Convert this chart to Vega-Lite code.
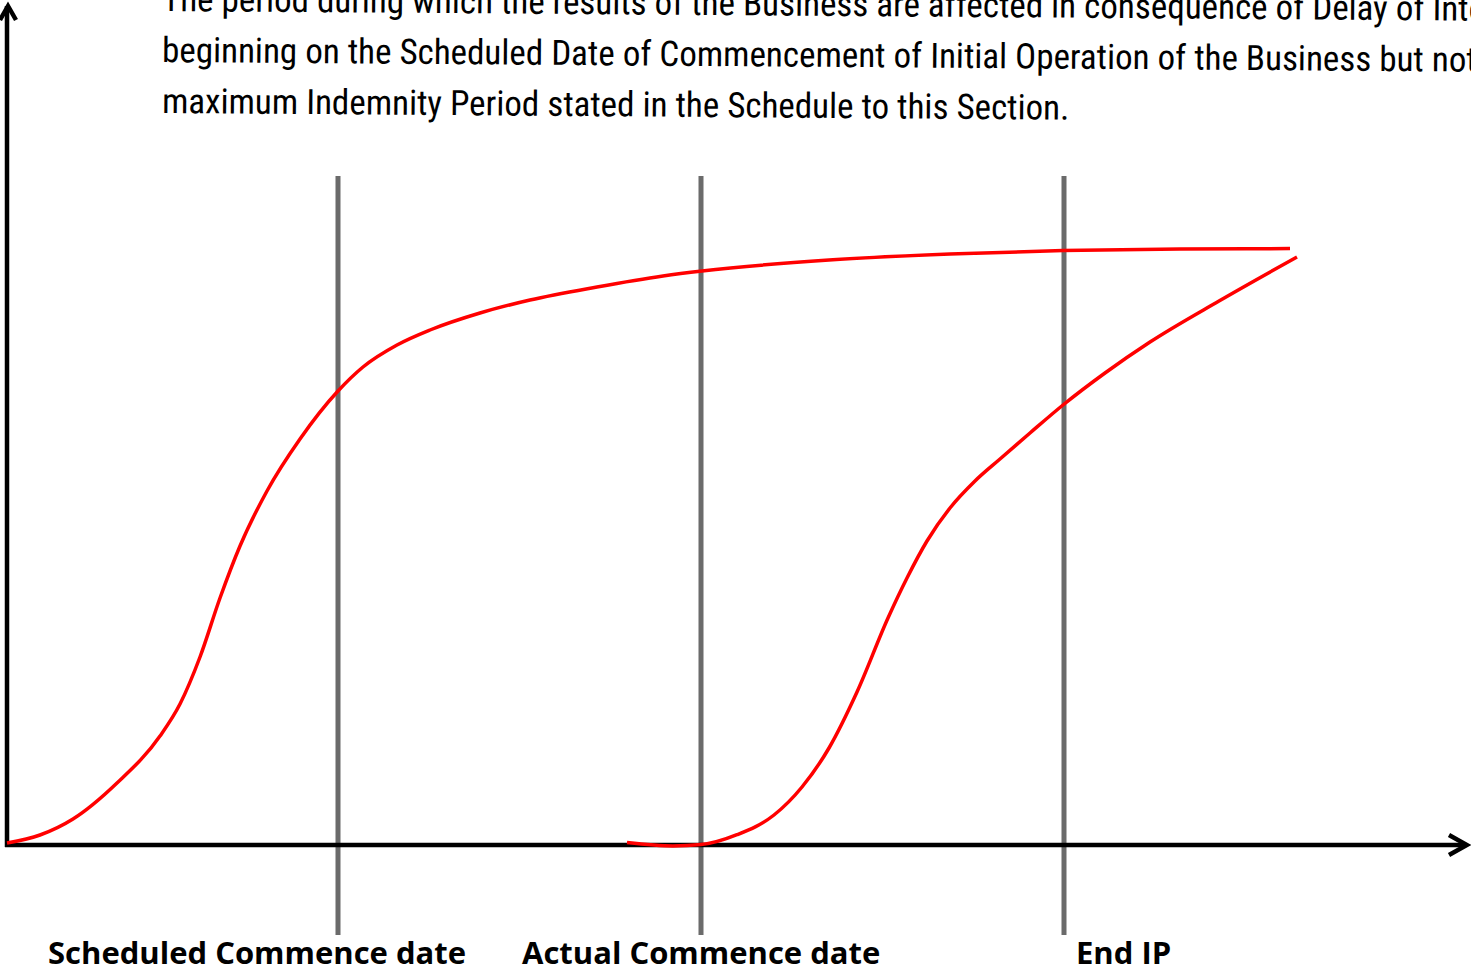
{
  "$schema": "https://vega.github.io/schema/vega-lite/v6.json",
  "width": 1471,
  "height": 972,
  "padding": 0,
  "autosize": {"type": "none"},
  "background": "white",
  "config": {"view": {"stroke": null}},
  "datasets": {
    "curves": [
      {"series": "planned", "x": 7, "y": 843},
      {"series": "planned", "x": 40, "y": 835},
      {"series": "planned", "x": 73, "y": 819},
      {"series": "planned", "x": 117, "y": 783},
      {"series": "planned", "x": 160, "y": 736},
      {"series": "planned", "x": 180, "y": 704},
      {"series": "planned", "x": 200, "y": 657},
      {"series": "planned", "x": 220, "y": 598},
      {"series": "planned", "x": 240, "y": 546},
      {"series": "planned", "x": 267, "y": 491},
      {"series": "planned", "x": 300, "y": 439},
      {"series": "planned", "x": 338, "y": 391},
      {"series": "planned", "x": 363, "y": 367},
      {"series": "planned", "x": 397, "y": 345},
      {"series": "planned", "x": 430, "y": 330},
      {"series": "planned", "x": 480, "y": 313},
      {"series": "planned", "x": 530, "y": 300},
      {"series": "planned", "x": 597, "y": 287},
      {"series": "planned", "x": 663, "y": 276},
      {"series": "planned", "x": 702, "y": 271},
      {"series": "planned", "x": 829, "y": 260},
      {"series": "planned", "x": 950, "y": 254},
      {"series": "planned", "x": 1063, "y": 250.5},
      {"series": "planned", "x": 1180, "y": 249},
      {"series": "planned", "x": 1290, "y": 248.6},
      {"series": "actual", "x": 627, "y": 842.6},
      {"series": "actual", "x": 673, "y": 846},
      {"series": "actual", "x": 701, "y": 844.6},
      {"series": "actual", "x": 737, "y": 834.7},
      {"series": "actual", "x": 774, "y": 815},
      {"series": "actual", "x": 802, "y": 787},
      {"series": "actual", "x": 829, "y": 748},
      {"series": "actual", "x": 857, "y": 692},
      {"series": "actual", "x": 888, "y": 618},
      {"series": "actual", "x": 907, "y": 578},
      {"series": "actual", "x": 927, "y": 541},
      {"series": "actual", "x": 950, "y": 508},
      {"series": "actual", "x": 975, "y": 481},
      {"series": "actual", "x": 1000, "y": 459},
      {"series": "actual", "x": 1030, "y": 433},
      {"series": "actual", "x": 1063, "y": 405},
      {"series": "actual", "x": 1105, "y": 373},
      {"series": "actual", "x": 1150, "y": 342},
      {"series": "actual", "x": 1219, "y": 301},
      {"series": "actual", "x": 1297, "y": 257}
    ],
    "axes": [
      {"part": "xaxis", "o": 1, "x": 5, "y": 845},
      {"part": "xaxis", "o": 2, "x": 1466, "y": 845},
      {"part": "xarrow", "o": 1, "x": 1449, "y": 835},
      {"part": "xarrow", "o": 2, "x": 1467, "y": 845},
      {"part": "xarrow", "o": 3, "x": 1449, "y": 855},
      {"part": "yaxis", "o": 1, "x": 7, "y": 847},
      {"part": "yaxis", "o": 2, "x": 7, "y": 6},
      {"part": "yarrow", "o": 1, "x": 0, "y": 20},
      {"part": "yarrow", "o": 2, "x": 8, "y": 6},
      {"part": "yarrow", "o": 3, "x": 16, "y": 20}
    ],
    "markers": [
      {"event": "Scheduled Commence date", "x": 338, "y1": 176, "y2": 935, "lx": 48},
      {"event": "Actual Commence date", "x": 701, "y1": 176, "y2": 935, "lx": 522},
      {"event": "End IP", "x": 1064, "y1": 176, "y2": 935, "lx": 1076}
    ],
    "note": [
      {"line": "The period during which the results of the Business are affected in consequence of Delay of Interruption", "x": 162, "y": 11},
      {"line": "beginning on the Scheduled Date of Commencement of Initial Operation of the Business but not exceeding the", "x": 162, "y": 62},
      {"line": "maximum Indemnity Period stated in the Schedule to this Section.", "x": 162, "y": 113}
    ]
  },
  "layer": [
    {
      "data": {"name": "markers"},
      "mark": {"type": "rule", "color": "#6b6b6b", "strokeWidth": 5},
      "encoding": {
        "x": {"field": "x", "type": "quantitative", "scale": {"domain": [0, 1471], "nice": false, "zero": false}, "axis": null},
        "y": {"field": "y1", "type": "quantitative", "scale": {"domain": [0, 972], "reverse": true, "nice": false, "zero": false}, "axis": null},
        "y2": {"field": "y2"}
      }
    },
    {
      "data": {"name": "axes"},
      "mark": {"type": "line", "color": "black", "strokeWidth": 4.5, "strokeCap": "butt", "strokeJoin": "miter"},
      "encoding": {
        "x": {"field": "x", "type": "quantitative", "scale": {"domain": [0, 1471], "nice": false, "zero": false}, "axis": null},
        "y": {"field": "y", "type": "quantitative", "scale": {"domain": [0, 972], "reverse": true, "nice": false, "zero": false}, "axis": null},
        "detail": {"field": "part"},
        "order": {"field": "o", "type": "quantitative"}
      }
    },
    {
      "data": {"name": "curves"},
      "mark": {"type": "line", "color": "#ff0000", "strokeWidth": 3.5, "interpolate": "monotone"},
      "encoding": {
        "x": {"field": "x", "type": "quantitative", "scale": {"domain": [0, 1471], "nice": false, "zero": false}, "axis": null},
        "y": {"field": "y", "type": "quantitative", "scale": {"domain": [0, 972], "reverse": true, "nice": false, "zero": false}, "axis": null},
        "detail": {"field": "series"}
      }
    },
    {
      "data": {"name": "markers"},
      "mark": {"type": "text", "font": "Open Sans", "fontWeight": "bold", "fontSize": 31, "align": "left", "baseline": "alphabetic", "color": "black"},
      "encoding": {
        "x": {"field": "lx", "type": "quantitative", "scale": {"domain": [0, 1471], "nice": false, "zero": false}, "axis": null},
        "y": {"datum": 964, "type": "quantitative", "scale": {"domain": [0, 972], "reverse": true, "nice": false, "zero": false}, "axis": null},
        "text": {"field": "event"}
      }
    },
    {
      "data": {"name": "note"},
      "mark": {"type": "text", "font": "Noto Sans ExtraCondensed, Noto Sans Condensed, Liberation Sans Narrow, Roboto Condensed, Liberation Sans", "fontSize": 35, "align": "left", "baseline": "alphabetic", "angle": 0.42, "color": "black"},
      "encoding": {
        "x": {"field": "x", "type": "quantitative", "scale": {"domain": [0, 1471], "nice": false, "zero": false}, "axis": null},
        "y": {"field": "y", "type": "quantitative", "scale": {"domain": [0, 972], "reverse": true, "nice": false, "zero": false}, "axis": null},
        "text": {"field": "line"}
      }
    }
  ]
}
